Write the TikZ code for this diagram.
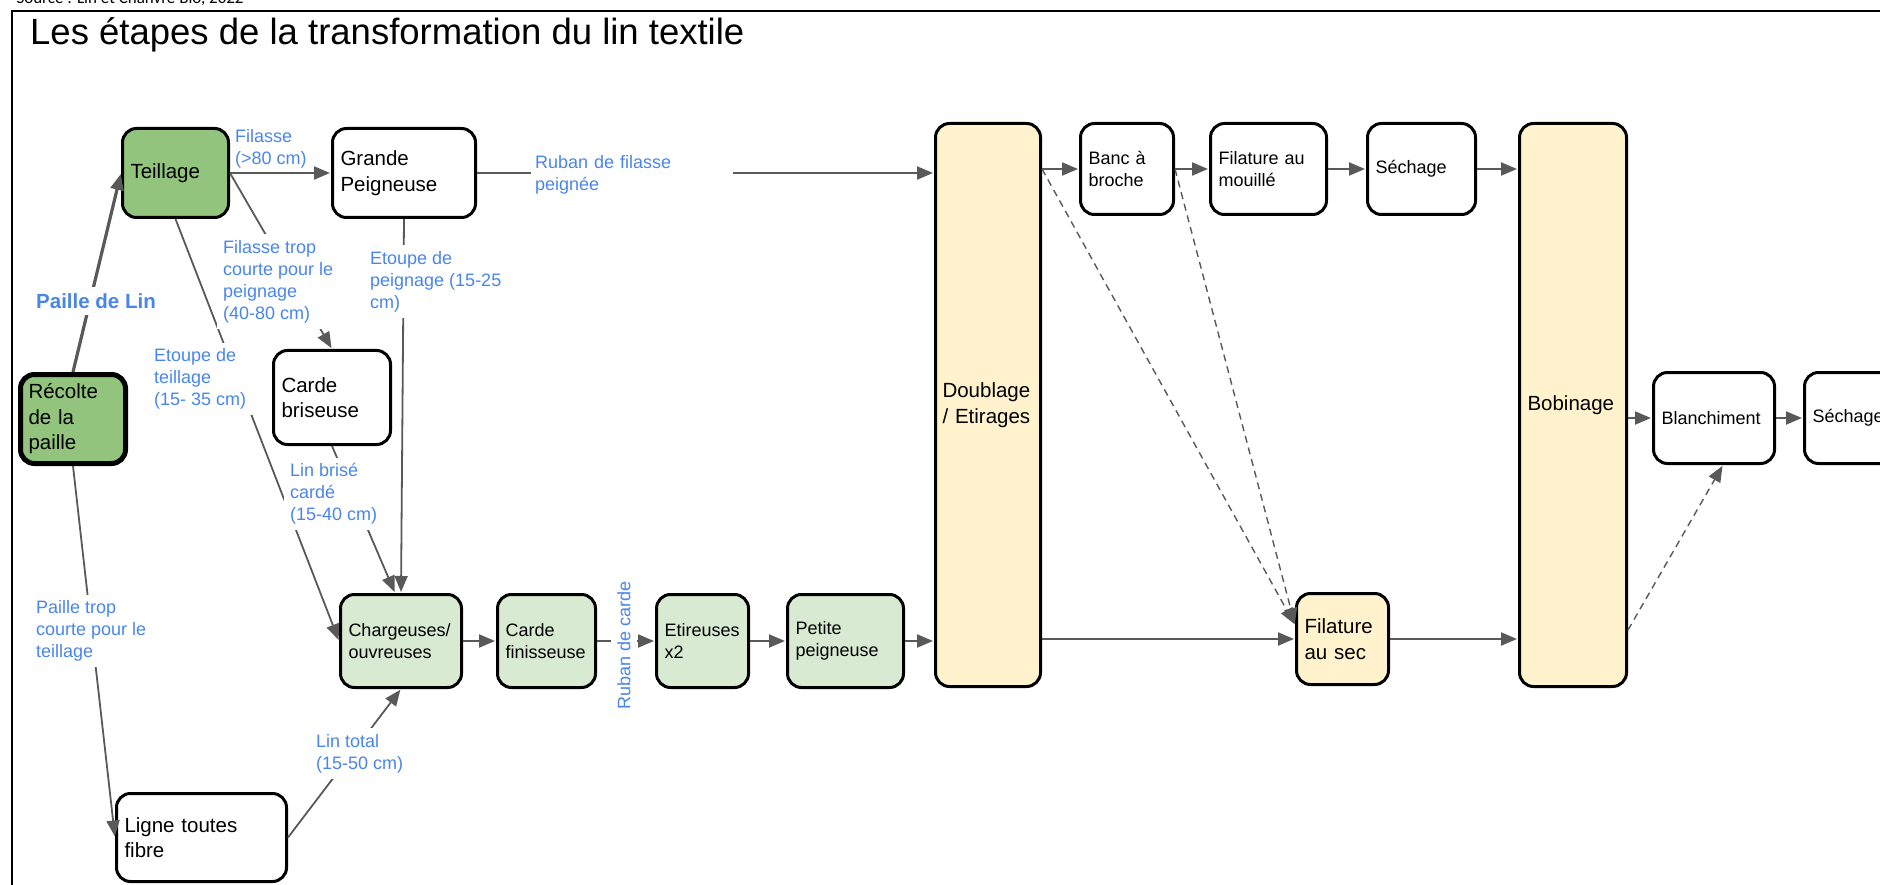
\documentclass[tikz,border=0pt]{standalone}
\usepackage{fontspec}
\setmainfont{Liberation Sans}
\newfontfamily\srcfont{Carlito}
\usepackage{tikz}
\usetikzlibrary{arrows.meta,calc}
\definecolor{paillegreen}{HTML}{93C47D}
\definecolor{palegreen}{HTML}{D9EAD3}
\definecolor{paleyellow}{HTML}{FFF2CC}
\definecolor{labelblue}{HTML}{4A86E8}
\definecolor{arrowgray}{HTML}{595959}

\begin{document}
\begin{tikzpicture}[x=1pt, y=-1pt, >={Triangle[length=16pt,width=13pt]},
        stage/.style={draw=black, line width=3pt, rounded corners=14pt, align=left,
            inner xsep=8pt, inner ysep=0pt, font=\fontsize{20.5}{25.5}\selectfont},
        smallstage/.style={stage, font=\fontsize{18}{22}\selectfont},
        flow/.style={->, draw=arrowgray, line width=1.8pt, shorten >=1pt},
        mainflow/.style={flow, line width=2.2pt},
        optflow/.style={flow, dash pattern=on 7pt off 5pt, line width=1.4pt},
        fibre/.style={text=labelblue, align=left, inner sep=4pt,
            font=\fontsize{18}{22}\selectfont},
        fibrecut/.style={fibre, fill=white, inner sep=6pt}]
    \useasboundingbox (0,0) rectangle (1880,885);
    % --- frame, title and source (top of the source line is cut off) ---
    \draw[line width=2pt] (11.5,11.5) rectangle (1900,900);
    \node[anchor=base west, font=\srcfont\fontsize{17}{20}\selectfont] (source) at (13,4) {Source : Lin et Chanvre Bio, 2022};
    \node[anchor=base west, inner sep=0pt, font=\fontsize{36.5}{44}\selectfont] (title) at (30,45) {Les étapes de la transformation du lin textile};
    % --- upstream: straw, scutching, combing ---
    \node[stage, fill=paillegreen, line width=5pt, text width=89pt, minimum height=89pt] (recolte) at (73,419) {Récolte\\de la\\paille};
    \node[stage, fill=paillegreen, text width=90pt, minimum height=89pt] (teil) at (175.5,173) {Teillage};
    \node[stage, text width=127pt, minimum height=89pt] (grande) at (404,173) {Grande\\Peigneuse};
    \node[stage, text width=101pt, minimum height=94pt] (carbr) at (332,397.5) {Carde\\briseuse};
    \node[stage, text width=154pt, minimum height=88pt] (ligne) at (201.5,837.5) {Ligne toutes\\fibre};
    % --- tow line (bottom row) ---
    \node[smallstage, fill=palegreen, text width=105pt, minimum height=93pt] (charg) at (401,641) {Chargeuses/\\ouvreuses};
    \node[smallstage, fill=palegreen, text width=82pt, minimum height=93pt] (cfin) at (546.5,641) {Carde\\finisseuse};
    \node[smallstage, fill=palegreen, text width=76pt, minimum height=93pt] (etir) at (702.5,641) {Etireuses\\x2};
    \node[smallstage, fill=palegreen, text width=100pt, minimum height=93pt] (petite) at (845.5,641) {Petite\\peigneuse};
    % --- spinning ---
    \node[stage, fill=paleyellow, inner xsep=7pt, text width=91pt, minimum height=563pt] (doubl) at (988,405) {Doublage\\/ Etirages};
    \node[smallstage, text width=77pt, minimum height=91pt] (banc) at (1127,169) {Banc à\\broche};
    \node[smallstage, text width=100pt, minimum height=91pt] (fmouil) at (1268.5,169) {Filature au\\mouillé};
    \node[smallstage, text width=92pt, minimum height=91pt] (sech1) at (1421.5,169) {Séchage};
    \node[stage, fill=paleyellow, text width=76pt, minimum height=91pt] (fsec) at (1342.5,639) {Filature\\au sec};
    \node[stage, fill=paleyellow, text width=91pt, minimum height=563pt] (bob) at (1573,405) {Bobinage};
    \node[smallstage, text width=105pt, minimum height=91pt] (blanch) at (1714,418) {Blanchiment};
    \node[smallstage, text width=103pt, minimum height=91pt] (sech2) at (1864,418) {Séchage};
    % --- connectors ---
    \draw[flow, line width=3.2pt] (recolte.north) -- (teil.west);
    \draw[mainflow] (teil.east) -- (grande.west);
    \draw[mainflow] (grande.east) -- (grande.east -| doubl.west);
    \draw[flow] (teil.east) -- (carbr.north);
    \draw[flow] (teil.south) -- (charg.west);
    \draw[flow] (grande.south) -- (charg.north);
    \draw[flow] (carbr.south) -- ([xshift=-6pt]charg.north);
    \draw[flow] (recolte.south) -- (ligne.west);
    \draw[flow] (ligne.east) -- (charg.south);
    \draw[mainflow] (charg) -- (cfin);
    \draw[mainflow] (cfin) -- (etir);
    \draw[mainflow] (etir) -- (petite);
    \draw[mainflow] (petite.east) -- (petite.east -| doubl.west);
    \draw[mainflow] (doubl.east |- banc.west) -- (banc.west);
    \draw[mainflow] (banc) -- (fmouil);
    \draw[mainflow] (fmouil) -- (sech1);
    \draw[mainflow] (sech1.east) -- (sech1.east -| bob.west);
    \draw[mainflow] (doubl.east |- fsec.west) -- (fsec.west);
    \draw[mainflow] (fsec.east) -- (fsec.east -| bob.west);
    \draw[mainflow] (bob.east |- blanch.west) -- (blanch.west);
    \draw[mainflow] (blanch) -- (sech2);
    \draw[optflow] (doubl.east |- banc.west) -- ([yshift=14pt]fsec.west);
    \draw[optflow] (banc.east) -- ([yshift=14pt]fsec.west);
    \draw[optflow] ($(bob.south east)+(0,-58)$) -- ([xshift=9pt]blanch.south);
    % --- fibre labels (white ones cut the lines) ---
    \node[fibrecut, font=\bfseries\fontsize{20.5}{24}\selectfont] (paille) at (96,301) {Paille de Lin};
    \node[fibre, anchor=west] (filasse) at (231,148.5) {Filasse\\(>80 cm)};
    \node[fibrecut, inner sep=4pt, anchor=west, text width=194pt] (rubanfil) at (531,174.5) {Ruban de filasse\\peignée};
    \node[fibrecut, anchor=west] (filcourte) at (217,281.5) {Filasse trop\\courte pour le\\peignage\\(40-80 cm)};
    \node[fibrecut, anchor=west] (etpeign) at (364,281.5) {Etoupe de\\peignage (15-25\\cm)};
    \node[fibrecut, anchor=west] (etteil) at (148,379) {Etoupe de\\teillage\\(15- 35 cm)};
    \node[fibrecut, anchor=west] (linbrise) at (284,494) {Lin brisé\\cardé\\(15-40 cm)};
    \node[fibrecut, anchor=west] (pailtrop) at (30,631) {Paille trop\\courte pour le\\teillage};
    \node[fibrecut, anchor=west] (lintot) at (310,753.5) {Lin total\\(15-50 cm)};
    \node[fibrecut, rotate=90] (rubancarde) at (624,645) {Ruban de carde};
\end{tikzpicture}
\end{document}
